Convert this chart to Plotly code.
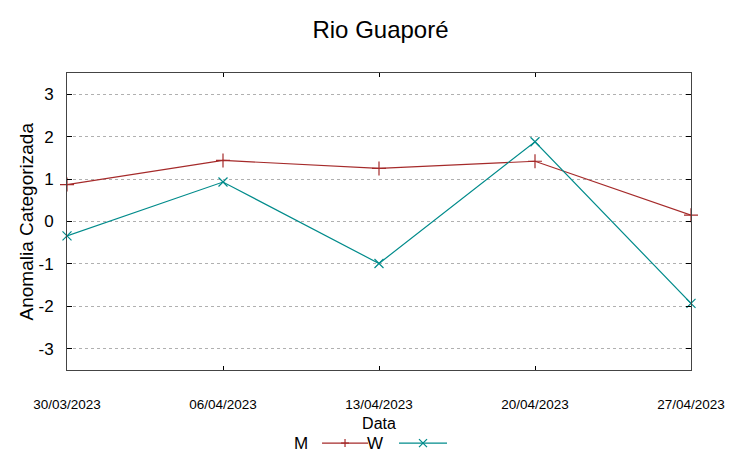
import plotly.graph_objects as go

dates = ["2023-03-30", "2023-04-06", "2023-04-13", "2023-04-20", "2023-04-27"]
tick_labels = ["30/03/2023", "06/04/2023", "13/04/2023", "20/04/2023", "27/04/2023"]
m_values = [0.87, 1.44, 1.25, 1.42, 0.15]
w_values = [-0.34, 0.93, -0.99, 1.88, -1.93]
y_ticks = [-3, -2, -1, 0, 1, 2, 3]
y_tick_labels = ["-3", "-2", "-1", "0", "1", "2", "3"]

M_COLOR = "#a52a2a"
W_COLOR = "#008b8b"
FONT = "Liberation Sans, Arial, sans-serif"

fig = go.Figure()
fig.add_trace(go.Scatter(x=dates, y=m_values, mode="lines+markers", name="M",
                         line=dict(color=M_COLOR, width=1.2),
                         marker=dict(symbol="cross-thin", size=10, line=dict(color=M_COLOR, width=1.2)),
                         cliponaxis=False, showlegend=False))
fig.add_trace(go.Scatter(x=dates, y=w_values, mode="lines+markers", name="W",
                         line=dict(color=W_COLOR, width=1.2),
                         marker=dict(symbol="x-thin", size=9, line=dict(color=W_COLOR, width=1.2)),
                         cliponaxis=False, showlegend=False))

# gnuplot-style legend: text then sample
legend_y = -0.246
items = [("M", M_COLOR, "plus", 0.389, 0.4087, 0.4824),
         ("W", W_COLOR, "x", 0.5096, 0.532, 0.609)]
for name, col, sym, tx, x0, x1 in items:
    fig.add_annotation(xref="paper", yref="paper", x=tx, y=legend_y, text=name,
                       showarrow=False, xanchor="right", yanchor="middle",
                       font=dict(family=FONT, size=17, color="#000"))
    fig.add_shape(type="line", xref="paper", yref="paper", x0=x0, x1=x1,
                  y0=legend_y, y1=legend_y, line=dict(color=col, width=1.2))
    cx = (x0 + x1) / 2
    if sym == "plus":
        segs = [(-4, 0, 4, 0), (0, -4, 0, 4)]
    else:
        segs = [(-4, -4, 4, 4), (-4, 4, 4, -4)]
    for a0, b0, a1, b1 in segs:
        fig.add_shape(type="line", xref="paper", yref="paper",
                      xsizemode="pixel", ysizemode="pixel",
                      xanchor=cx, yanchor=legend_y,
                      x0=a0, x1=a1, y0=b0, y1=b1,
                      line=dict(color=col, width=1.2))

# y-axis title as rotated text
fig.add_annotation(xref="paper", yref="paper", x=0, y=0.5, xshift=-41,
                   text="Anomalia Categorizada", textangle=-90, showarrow=False,
                   xanchor="center", yanchor="middle",
                   font=dict(family=FONT, size=19, color="#000"))

fig.update_layout(
    width=745, height=451,
    margin=dict(l=59, r=62, t=65, b=89, autoexpand=False),
    plot_bgcolor="white", paper_bgcolor="white",
    font=dict(family=FONT, color="#000"),
    title=dict(text="Rio Guaporé", x=0.5, xanchor="center", y=0.951, yanchor="middle",
               font=dict(family=FONT, size=24, color="#000")),
    xaxis=dict(type="date", range=[dates[0], dates[-1]], tickvals=dates, ticktext=tick_labels,
               showgrid=False, showline=True, mirror="ticks", linecolor="#444", linewidth=1,
               ticks="inside", ticklen=4, tickcolor="#000",
               ticklabelstandoff=22, automargin=False,
               tickfont=dict(family=FONT, size=13.5), zeroline=False,
               title=dict(text="Data", font=dict(family=FONT, size=16), standoff=6)),
    yaxis=dict(range=[-3.5, 3.5], tickvals=y_ticks, ticktext=y_tick_labels,
               showgrid=True, gridcolor="#b0b0b0",
               griddash="dot", gridwidth=1, zeroline=False,
               showline=True, mirror="ticks", linecolor="#444", linewidth=1,
               ticks="inside", ticklen=5, tickcolor="#000",
               ticklabelstandoff=9, automargin=False,
               tickfont=dict(family=FONT, size=17)),
)

fig.write_html("out.html")
